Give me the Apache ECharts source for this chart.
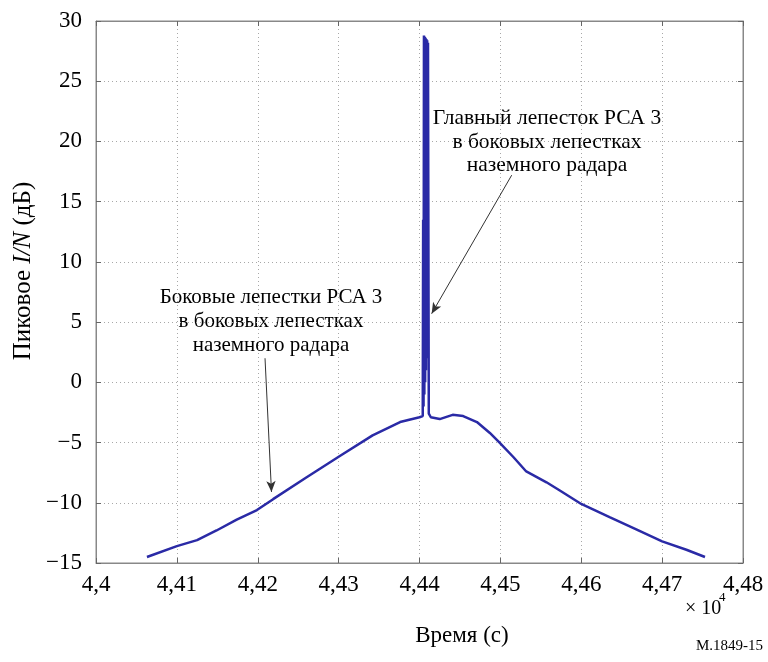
<!DOCTYPE html>
<html><head><meta charset="utf-8">
<script src="https://cdn.jsdelivr.net/npm/echarts@6/dist/echarts.min.js"></script>
<style>html,body{margin:0;padding:0;background:#fff}#c{width:768px;height:662px}</style>
</head><body><div id="c"></div>
<script>
// Time (s) and peak I/N (dB)
const timeS = [44063, 44100, 44125, 44149, 44174, 44199, 44219, 44260, 44302, 44342, 44376, 44400, 44404,
  44404.5, 44405, 44405.5, 44406, 44406.5, 44407, 44407.5, 44408, 44408.5, 44409, 44409.5, 44410, 44410.5, 44411, 44411.5,
  44414, 44425, 44441, 44454, 44471, 44487, 44499, 44516, 44532, 44557, 44574, 44600, 44635, 44668, 44700, 44730, 44753];
const peakIN = [-14.5, -13.6, -13.1, -12.3, -11.4, -10.6, -9.7, -7.9, -6.1, -4.4, -3.3, -2.9, -2.8,
  13.5, -2, 28.8, -1, 28.7, 0, 28.6, 1, 28.5, 19.6, 28.4, 2, 28.2, 12.4, -2.6,
  -2.9, -3.05, -2.7, -2.8, -3.3, -4.2, -5.0, -6.2, -7.4, -8.3, -9.0, -10.1, -11.2, -12.2, -13.2, -13.9, -14.5];
const xTicks = {min: 44000, max: 44800, step: 100};
const yTicks = {min: -15, max: 30, step: 5};
// Annotation arrows: [startTime, startValue, endTime, endValue]
const arrowMain = [44514, 17.2, 44415, 5.7];
const arrowSide = [44209, 2.0, 44217, -9.1];
const noteMain = ['Главный лепесток РСА 3', 'в боковых лепестках', 'наземного радара'];
const noteSide = ['Боковые лепестки РСА 3', 'в боковых лепестках', 'наземного радара'];

const FONT = '"Liberation Serif", "DejaVu Serif", serif';
const chart = echarts.init(document.getElementById('c'), null, {renderer: 'canvas'});
const fmtX = v => (v / 10000).toFixed(2).replace(/0$/, '').replace('.', ',');
const fmtY = v => v < 0 ? '\u2212' + (-v) : String(v);
const gridLine = {show: true, lineStyle: {color: '#a8a8a8', type: [1, 3], width: 1}};
const tick = {show: true, inside: true, length: 5, lineStyle: {color: '#666'}};
const axLine = {show: true, onZero: false, lineStyle: {color: '#888'}};

const option = {
  animation: false,
  backgroundColor: '#fff',
  grid: {left: 96, right: 25, top: 21, bottom: 99, show: true, borderColor: '#888', borderWidth: 1},
  xAxis: [
    {type: 'value', min: xTicks.min, max: xTicks.max, interval: xTicks.step, position: 'bottom',
     axisLine: axLine, axisTick: tick, splitLine: gridLine,
     axisLabel: {formatter: fmtX, fontFamily: FONT, fontSize: 23, color: '#000', margin: 10}},
    {type: 'value', min: xTicks.min, max: xTicks.max, interval: xTicks.step, position: 'top',
     axisLine: axLine, axisTick: tick, splitLine: {show: false}, axisLabel: {show: false}}
  ],
  yAxis: [
    {type: 'value', min: yTicks.min, max: yTicks.max, interval: yTicks.step, position: 'left',
     axisLine: axLine, axisTick: tick, splitLine: gridLine,
     axisLabel: {formatter: fmtY, fontFamily: FONT, fontSize: 23, color: '#000', margin: 14}},
    {type: 'value', min: yTicks.min, max: yTicks.max, interval: yTicks.step, position: 'right',
     axisLine: axLine, axisTick: tick, splitLine: {show: false}, axisLabel: {show: false}}
  ],
  series: [{
    type: 'line',
    data: timeS.map((t, i) => [t, peakIN[i]]),
    showSymbol: false,
    lineStyle: {color: '#2a2aa6', width: 2.5},
    markLine: {
      silent: true,
      symbol: ['none', 'arrow'],
      symbolSize: [7, 11],
      label: {show: false},
      lineStyle: {color: '#333', width: 1, type: 'solid'},
      emphasis: {disabled: true},
      data: [
        [{coord: [arrowMain[0], arrowMain[1]]}, {coord: [arrowMain[2], arrowMain[3]]}],
        [{coord: [arrowSide[0], arrowSide[1]]}, {coord: [arrowSide[2], arrowSide[3]]}]
      ]
    }
  }],
  graphic: [
    {type: 'text', x: 547, y: 142, style: {text: noteMain.join('\n'), font: '21.5px ' + FONT, fill: '#000', align: 'center', verticalAlign: 'middle', lineHeight: 23.5}},
    {type: 'text', x: 271, y: 321, style: {text: noteSide.join('\n'), font: '21px ' + FONT, fill: '#000', align: 'center', verticalAlign: 'middle', lineHeight: 24}},
    {type: 'text', x: 23, y: 271, rotation: Math.PI / 2,
     style: {text: '{a|Пиковое }{i|I/N}{a| (дБ)}', align: 'center', verticalAlign: 'middle', fill: '#000',
       rich: {a: {fontFamily: FONT, fontSize: 25, fill: '#000'}, i: {fontFamily: FONT, fontSize: 25, fontStyle: 'italic', fill: '#000'}}}},
    {type: 'text', x: 462, y: 636, style: {text: 'Время (с)', font: '23px ' + FONT, fill: '#000', align: 'center', verticalAlign: 'middle'}},
    {type: 'text', x: 685, y: 609, style: {text: '× 10', font: '20px ' + FONT, fill: '#000', align: 'left', verticalAlign: 'middle'}},
    {type: 'text', x: 719, y: 598, style: {text: '4', font: '13px ' + FONT, fill: '#000', align: 'left', verticalAlign: 'middle'}},
    {type: 'text', x: 763, y: 646, style: {text: 'M.1849-15', font: '15px ' + FONT, fill: '#000', align: 'right', verticalAlign: 'middle'}}
  ]
};
chart.setOption(option);
</script>
</body></html>
